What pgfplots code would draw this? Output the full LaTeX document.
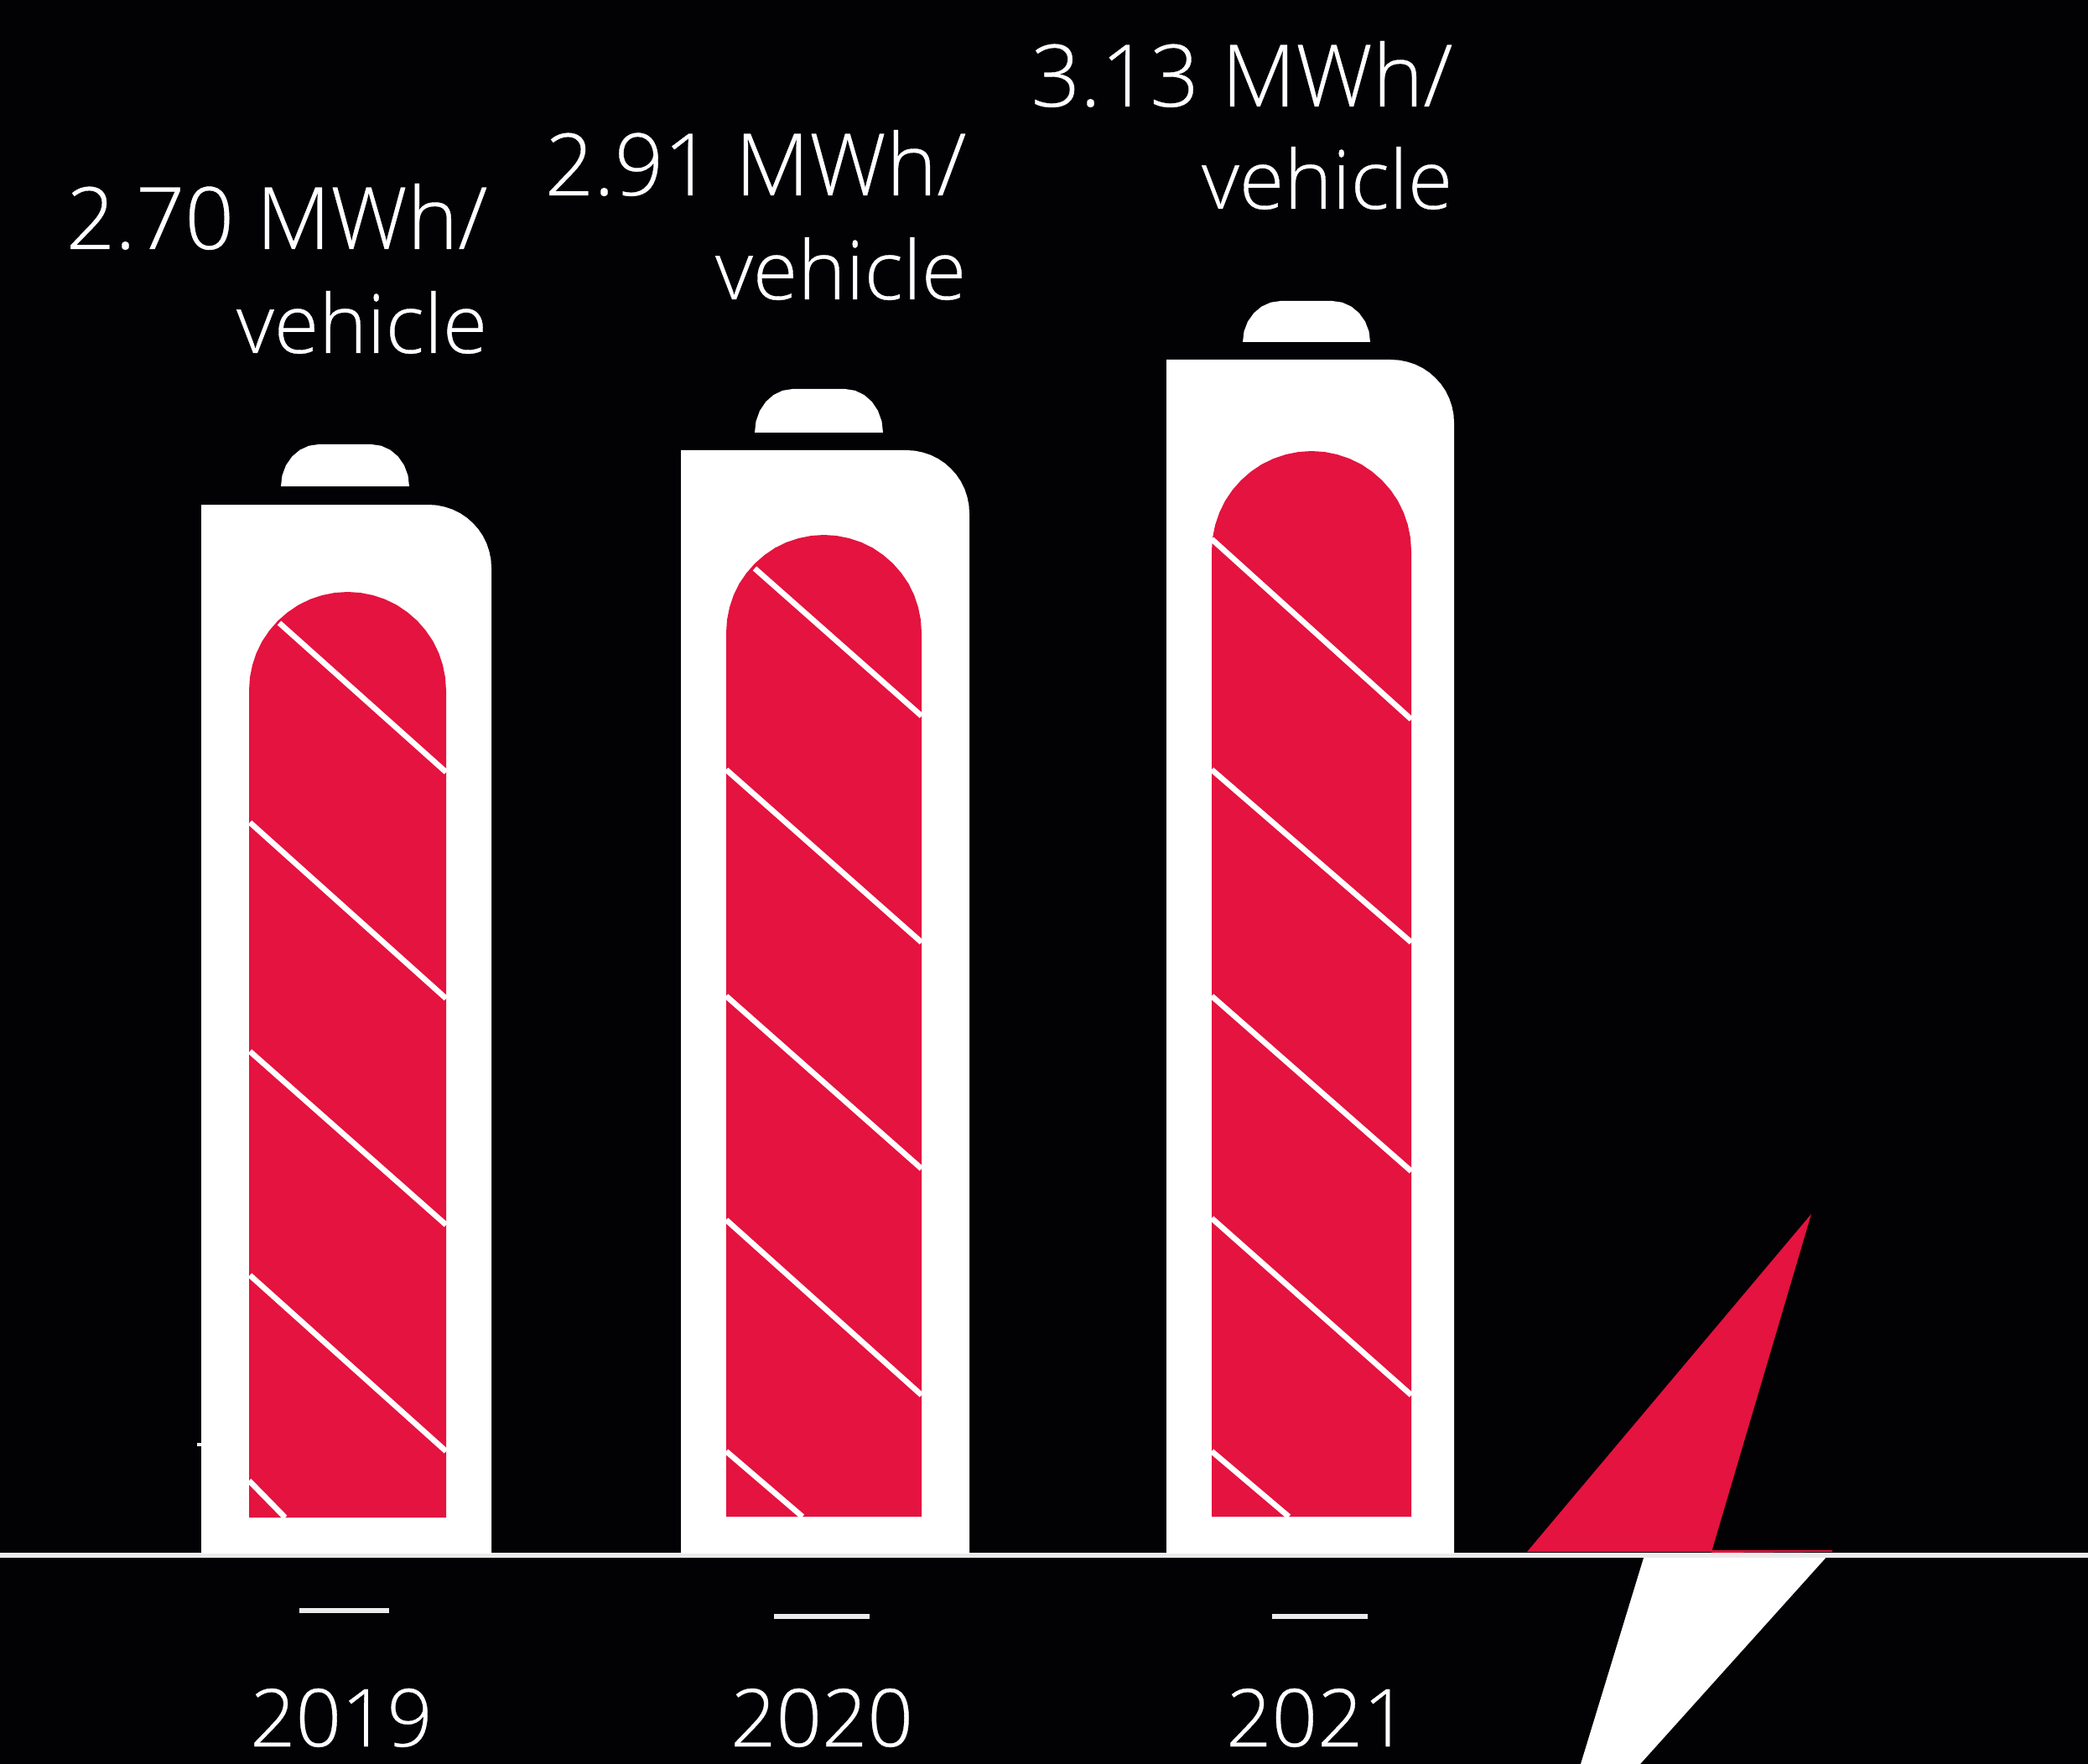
\documentclass[border=0pt]{standalone}
\usepackage{pgfplots}
\pgfplotsset{compat=1.18}
\usepackage{fontspec}
\setmainfont{Open Sans}[UprightFont=* Light,UprightFeatures={FakeBold=0.35}]
\definecolor{bg}{HTML}{020205}
\definecolor{rd}{HTML}{E4133F}
\pgfplotsset{
  solid shape/.style={fill=#1,draw=none,no markers,forget plot},
  stripe/.style={white,line width=2pt,no markers,forget plot},
  rule/.style={white!92!black,line width=#1,no markers,forget plot},
}
\newcommand{\vallabel}[4]{\node[anchor=base east,inner sep=0pt,text=white,font=\fontsize{#4}{36}\selectfont] at (axis cs:#1,#2) {#3};}
\newcommand{\yr}[3]{\node[anchor=base,inner sep=0pt,text=white,font=\fontsize{28.6}{34}\selectfont] at (axis cs:#1,#2) {#3};}
\begin{document}
\begin{tikzpicture}
\begin{axis}[
  x=0.3pt,y=0.3pt,
  xmin=0,xmax=2490,ymin=0,ymax=2104,
  y dir=reverse,
  hide axis,
  clip=true,
  scale only axis,
]
% background
\addplot[solid shape=bg] coordinates {(0,0)(2490,0)(2490,2104)(0,2104)};
% lightning bolt
\addplot[solid shape=white] coordinates {(1961,1855)(2180,1855)(1956,2104)(1885,2104)};
\addplot[rule=2pt] coordinates {(0,1855)(2490,1855)};
\addplot[solid shape=rd] coordinates {(1821,1851)(2160,1448)(2041,1851)};
\addplot[solid shape=rd] coordinates {(2041,1852)(2185,1851)(2185,1849)(2041,1849)};
% 2019 battery
\addplot[solid shape=white] coordinates {(335,580)(336.5,567.1)(341,555)(348.2,544.6)(357.5,536.7)(368.4,531.7)(380,530)(443,530)(454.6,531.7)(465.5,536.7)(474.8,544.6)(482,555)(486.5,567.1)(488,580)};
\addplot[solid shape=white] coordinates {(240,602)(511,602)(520.8,602.6)(530.4,604.6)(539.7,607.7)(548.5,612)(556.7,617.5)(564,624)(570.5,631.3)(576,639.5)(580.3,648.3)(583.4,657.6)(585.4,667.2)(586,677)(586,1853)(240,1853)};
\addplot[solid shape=rd] coordinates {(297,823.5)(298,808.2)(301,793.1)(305.9,778.5)(312.7,764.75)(321.3,752)(331.4,740.4)(343,730.3)(355.75,721.7)(369.5,714.9)(384.1,710)(399.2,707)(414.5,706)(429.8,707)(444.9,710)(459.5,714.9)(473.25,721.7)(486,730.3)(497.6,740.4)(507.7,752)(516.3,764.75)(523.1,778.5)(528,793.1)(531,808.2)(532,823.5)(532,1810)(297,1810)};
\addplot[stripe] coordinates {(333,743)(532,921)};
\addplot[stripe] coordinates {(298,981)(532,1191)};
\addplot[stripe] coordinates {(298,1254)(532,1461)};
\addplot[stripe] coordinates {(298,1521)(532,1731)};
\addplot[stripe] coordinates {(297,1766)(340,1810)};
\addplot[rule=1.2pt] coordinates {(235,1723)(240,1723)};
% 2020 battery
\addplot[solid shape=white] coordinates {(900,516)(901.5,502.6)(906,490)(913.2,479.2)(922.5,471)(933.4,465.8)(945,464)(1008,464)(1019.6,465.8)(1030.5,471)(1039.8,479.2)(1047,490)(1051.5,502.6)(1053,516)};
\addplot[solid shape=white] coordinates {(812,537)(1081,537)(1090.8,537.6)(1100.4,539.6)(1109.7,542.7)(1118.5,547)(1126.7,552.5)(1134,559)(1140.5,566.3)(1146,574.5)(1150.3,583.3)(1153.4,592.6)(1155.4,602.2)(1156,612)(1156,1853)(812,1853)};
\addplot[solid shape=rd] coordinates {(866,754.5)(867,739.3)(870,724.4)(874.8,709.9)(881.5,696.2)(890.1,683.6)(900.1,672.1)(911.6,662.1)(924.2,653.5)(937.9,646.8)(952.4,642)(967.3,639)(982.5,638)(997.7,639)(1012.6,642)(1027.1,646.8)(1040.8,653.5)(1053.4,662.1)(1064.9,672.1)(1074.9,683.6)(1083.5,696.2)(1090.2,709.9)(1095,724.4)(1098,739.3)(1099,754.5)(1099,1809)(866,1809)};
\addplot[stripe] coordinates {(900,678)(1099,854)};
\addplot[stripe] coordinates {(866,918)(1099,1124)};
\addplot[stripe] coordinates {(866,1188)(1099,1394)};
\addplot[stripe] coordinates {(866,1455)(1099,1664)};
\addplot[stripe] coordinates {(866,1731)(957,1809)};
% 2021 battery
\addplot[solid shape=white] coordinates {(1482,408)(1483.5,395.3)(1488,383.5)(1495.2,373.4)(1504.5,365.6)(1515.4,360.7)(1527,359)(1589,359)(1600.6,360.7)(1611.5,365.6)(1620.8,373.4)(1628,383.5)(1632.5,395.3)(1634,408)};
\addplot[solid shape=white] coordinates {(1391,429)(1659,429)(1668.8,429.6)(1678.4,431.6)(1687.7,434.7)(1696.5,439)(1704.7,444.5)(1712,451)(1718.5,458.3)(1724,466.5)(1728.3,475.3)(1731.4,484.6)(1733.4,494.2)(1734,504)(1734,1853)(1391,1853)};
\addplot[solid shape=rd] coordinates {(1445,657)(1446,641.5)(1449.1,626.2)(1454.1,611.5)(1460.9,597.5)(1469.6,584.6)(1479.9,572.9)(1491.6,562.6)(1504.5,553.9)(1518.5,547.1)(1533.2,542.1)(1548.5,539)(1564,538)(1579.5,539)(1594.8,542.1)(1609.5,547.1)(1623.5,553.9)(1636.4,562.6)(1648.1,572.9)(1658.4,584.6)(1667.1,597.5)(1673.9,611.5)(1678.9,626.2)(1682,641.5)(1683,657)(1683,1809)(1445,1809)};
\addplot[stripe] coordinates {(1445,643)(1683,858)};
\addplot[stripe] coordinates {(1445,918)(1683,1124)};
\addplot[stripe] coordinates {(1445,1188)(1683,1397)};
\addplot[stripe] coordinates {(1445,1453)(1683,1664)};
\addplot[stripe] coordinates {(1445,1731)(1537,1809)};
% year dashes
\addplot[rule=2pt] coordinates {(357,1921)(464,1921)};
\addplot[rule=2pt] coordinates {(923,1928)(1037,1928)};
\addplot[rule=2pt] coordinates {(1517,1928)(1631,1928)};
% labels
\vallabel{582}{297}{2.70 MWh/}{30.8}
\vallabel{582}{421}{vehicle}{29.2}
\vallabel{1153}{233}{2.91 MWh/}{30.8}
\vallabel{1153}{357}{vehicle}{29.2}
\vallabel{1733}{127}{3.13 MWh/}{30.8}
\vallabel{1733}{249}{vehicle}{29.2}
\yr{407}{2083}{2019}
\yr{980}{2083}{2020}
\yr{1571}{2083}{2021}
\end{axis}
\end{tikzpicture}
\end{document}
